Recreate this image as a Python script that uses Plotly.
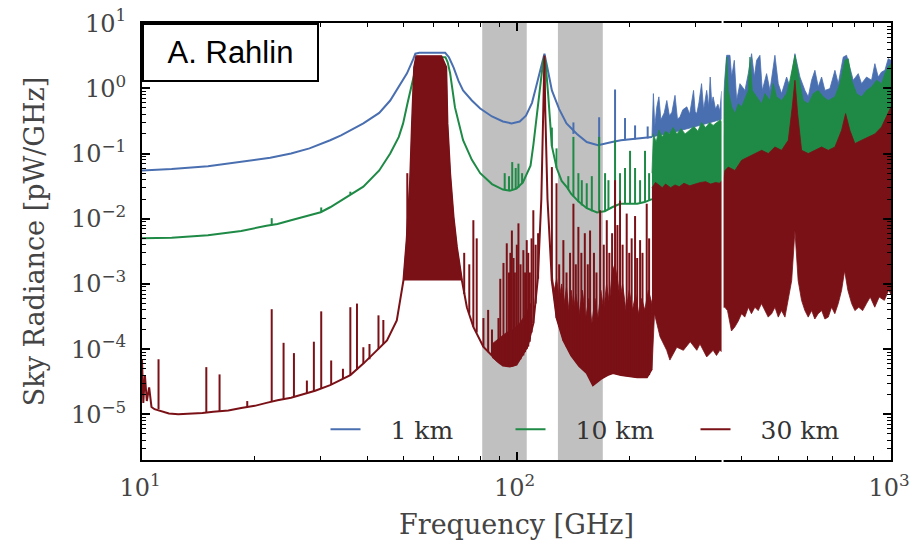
import plotly.graph_objects as go

BLUE = '#4a6fb0'
GREEN = '#1e8a46'
RED = '#7a1117'
GRAY = '#c0c0c0'
SERIF = 'DejaVu Serif'

# ---------------- data (GHz, pW/GHz) ----------------
shade_lo = [81, 129]
shade_hi = [106.5, 170]
gap_freq = 355

series_names = ['1 km', '10 km', '30 km']

x_tickvals = [10, 100, 1000]
x_ticktext = ['10<sup>1</sup>', '10<sup>2</sup>', '10<sup>3</sup>']
y_tickvals = [1e-5, 1e-4, 1e-3, 1e-2, 1e-1, 1, 10]
y_ticktext = ['10<sup>\u22125</sup>', '10<sup>\u22124</sup>', '10<sup>\u22123</sup>', '10<sup>\u22122</sup>',
              '10<sup>\u22121</sup>', '10<sup>0</sup>', '10<sup>1</sup>']

# 1 km
b_cont_f = [10, 12, 15, 18.4, 22, 25, 28, 31.8, 34, 39, 43, 46, 49, 51, 53, 53.7, 55, 60, 64.5, 66,
            67.9, 70, 72, 76, 80, 86, 92, 97, 102, 106, 110, 113, 116, 118.75, 121.5, 124.3, 130, 136, 145, 154,
            165, 172, 180, 190, 200, 215, 230]
b_cont_v = [0.055, 0.058, 0.064, 0.074, 0.086, 0.1, 0.12, 0.16, 0.19, 0.29, 0.42, 0.65, 1.15, 1.7, 2.8, 3.4, 3.5, 3.5, 3.5, 3.0,
            2.1, 1.3, 0.93, 0.65, 0.49, 0.37, 0.31, 0.29, 0.31, 0.38, 0.6, 1.1, 2.1, 3.4, 1.8, 0.93, 0.48, 0.29, 0.2, 0.15,
            0.134, 0.14, 0.15, 0.16, 0.165, 0.17, 0.18]
b_spk_f = [141.9, 166.2, 183.3, 194.9, 207.3, 224]
b_spk_lo = [0.2, 0.134, 0.152, 0.16, 0.165, 0.17]
b_spk_hi = [0.3, 0.36, 0.96, 0.35, 0.27, 0.26]
b_f1_hi_f = [230, 232, 234, 237, 240, 243, 248, 252, 256, 260, 265, 269, 273, 278, 285, 290, 297, 300, 303, 307,
             312, 316, 322, 326, 329, 332, 335, 340, 345, 349, 353, 355]
b_f1_hi_v = [0.18, 0.83, 0.26, 0.52, 0.74, 0.33, 0.42, 0.65, 0.38, 0.43, 0.78, 0.34, 0.36, 0.47, 0.52, 0.4, 0.93, 0.44, 0.41, 0.6,
             1.18, 0.47, 0.93, 0.52, 1.49, 0.6, 0.74, 0.48, 0.57, 0.45, 0.9, 0.45]
b_f1_lo_f = [230, 270, 300, 330, 355]
b_f1_lo_v = [0.18, 0.22, 0.26, 0.3, 0.34]
b_f2_hi_f = [355, 364, 371.5, 375.4, 381.6, 387.1, 395, 407.4, 415.8, 424.4, 431.5, 437.7, 446.7, 453.2, 465.4, 475.1,
             489.8, 500, 510.3, 526.3, 537.2, 554, 571.2, 589.1, 601.3, 613.7, 626.4, 639.4, 652.6, 666.1, 686.8,
             708.4, 723, 745.6, 761, 776.7, 792.8, 817.5, 834.4, 860.4, 887.3, 905.6, 924.4, 943.5, 963.1, 983, 1000]
b_f2_hi_v = [0.52, 3.21, 3.21, 1.49, 2.69, 0.65, 1.18, 0.93, 1.68, 3.4, 1.49, 2.69, 3.21, 0.93, 1.68, 0.93,
             3.21, 1.18, 0.83, 1.49, 1.05, 3.4, 1.49, 0.93, 0.74, 1.33, 1.89, 1.05, 1.49, 0.93, 0.99,
             1.89, 1.18, 3.02, 3.21, 2.12, 1.33, 1.68, 1.18, 1.49, 1.33, 2.39, 1.49, 1.78, 1.89, 2.85, 2.69]
b_f2_lo_f = [355, 600, 1000]
b_f2_lo_v = [0.3, 0.4, 0.5]

# 10 km
g_cont_f = [10, 12, 15, 18.4, 21.5, 23, 25, 28, 30, 31.8, 34, 39, 43, 46, 48.5, 49.8, 51.2, 52.7, 54.4, 55,
            60, 64.6, 65.5, 66.5, 68.5, 72, 76, 80, 86, 92, 96, 100, 104, 107, 109, 111, 113.5, 116, 117.8, 118.75,
            119.6, 121.5, 124.3, 128, 132, 136.6, 140, 147, 154, 164, 172, 180, 189, 200, 210, 220, 230]
g_cont_v = [0.005, 0.0051, 0.0056, 0.0065, 0.0078, 0.0083, 0.0095, 0.0112, 0.0126, 0.015, 0.019, 0.031, 0.055, 0.1, 0.18,
            0.29, 0.6, 1.2, 2.7, 3.0, 3.0, 3.0, 2.5, 1.7, 0.51, 0.16, 0.08, 0.05, 0.034, 0.028, 0.027, 0.029, 0.036,
            0.05, 0.065, 0.14, 0.4, 1.2, 2.6, 3.0, 2.4, 0.8, 0.13, 0.06, 0.038, 0.03, 0.024, 0.018, 0.0145, 0.0125,
            0.013, 0.015, 0.017, 0.017, 0.017, 0.018, 0.02]
g_spk_f = [22.2, 30.1, 36.0, 93.0, 95.5, 97.4, 99.5, 101.2, 103.5, 124.3, 127.9, 137.5, 141.9, 146.3, 149.4, 154.0,
           158.9, 166.2, 172.4, 176.0, 183.3, 189.0, 194.9, 201.0, 207.3, 213.8, 220.4, 226.0]
g_spk_lo = [0.0079, 0.0126, 0.024, 0.028, 0.027, 0.028, 0.029, 0.03, 0.034, 0.13, 0.06, 0.028, 0.022, 0.018, 0.016,
            0.0145, 0.013, 0.0125, 0.013, 0.014, 0.015, 0.017, 0.017, 0.017, 0.017, 0.017, 0.018, 0.019]
g_spk_hi = [0.0102, 0.0149, 0.026, 0.05, 0.045, 0.074, 0.06, 0.07, 0.05, 0.25, 0.12, 0.045, 0.18, 0.05, 0.039, 0.035,
            0.045, 0.18, 0.05, 0.039, 0.16, 0.05, 0.06, 0.11, 0.06, 0.039, 0.11, 0.05]
g_f1_hi_f = [230, 232, 236, 240, 245, 250, 256, 262, 268, 275, 282, 290, 298, 305, 312, 320, 328, 335, 342, 350, 355]
g_f1_hi_v = [0.05, 0.2, 0.15, 0.23, 0.18, 0.22, 0.2, 0.25, 0.2, 0.24, 0.2, 0.23, 0.26, 0.22, 0.3, 0.25, 0.3, 0.27,
             0.3, 0.33, 0.3]
g_f1_lo_f = [230, 355]
g_f1_lo_v = [0.02, 0.03]
g_f2_hi_f = [355, 360.3, 364, 367.7, 375.4, 383.1, 391, 399.2, 407.4, 415.8, 420.1, 426.2, 437.7, 451.4, 460.7,
             475.1, 484.9, 494.9, 510.3, 526.3, 537.2, 554, 571.2, 583, 601.3, 620, 639.4, 659.2, 679.8, 708.4,
             730.5, 753.3, 768.9, 784.8, 809.1, 834.4, 860.4, 887.3, 915, 943.5, 963.1, 983, 1000]
g_f2_hi_v = [0.126, 0.93, 3.02, 0.93, 0.52, 0.41, 0.58, 0.52, 0.69, 0.93, 3.02, 0.93, 0.74, 0.58, 0.83,
             0.65, 1.18, 0.74, 0.65, 0.83, 1.33, 3.21, 1.18, 0.65, 0.58, 0.83, 0.93, 0.74, 0.65, 0.74,
             1.18, 2.69, 2.85, 1.33, 0.83, 0.74, 0.93, 1.05, 1.33, 1.18, 1.68, 2.12, 2.39]
g_f2_lo_f = [355, 1000]
g_f2_lo_v = [0.02, 0.05]

# 30 km
r_cont_f = [10.0, 10.08, 10.18, 10.3, 10.45, 10.6, 10.8, 11.3, 11.8, 12.5, 13.5, 14.5, 15.5, 17, 18.4, 20, 21.5, 23,
            25, 27, 29, 31.8, 34, 36, 39, 42, 45.1, 47.9, 49.9, 50.9, 52.0, 52.6, 53.3, 54.0, 57, 60, 63, 64.9,
            65.4, 66.5, 67.9, 69.3, 71.5, 73.7, 76.7, 81.6, 88.6, 92, 96, 100, 103, 107, 110.9, 114, 116.5, 118.2,
            118.75, 119.3, 121, 124.3, 128, 133.4, 140, 147, 154, 160, 168, 175, 181, 190, 200, 210, 223, 230]
r_cont_v = [6.8e-5, 1.5e-5, 4e-5, 1.6e-5, 2.6e-5, 1.3e-5, 1.2e-5, 1.1e-5, 1.03e-5, 1.0e-5, 1.02e-5, 1.05e-5, 1.1e-5,
            1.15e-5, 1.25e-5, 1.35e-5, 1.5e-5, 1.65e-5, 1.8e-5, 2.05e-5, 2.3e-5, 2.8e-5, 3.4e-5, 4.0e-5, 6.0e-5,
            9e-5, 1.36e-4, 2.75e-4, 1.13e-3, 4.7e-3, 0.039, 0.29, 2.1, 3.1, 3.1, 3.1, 3.1, 2.1, 0.29, 0.049,
            0.0106, 3.7e-3, 1.13e-3, 4.4e-4, 2.2e-4, 1.08e-4, 6.7e-5, 5.6e-5, 5.4e-5, 5.8e-5, 7.6e-5, 1.1e-4,
            2.5e-4, 1.2e-3, 0.02, 0.5, 3.2, 0.5, 0.02, 1.1e-3, 3e-4, 1.36e-4, 8e-5, 5.5e-5, 4.3e-5, 2.8e-5,
            3.5e-5, 4e-5, 4.3e-5, 4e-5, 3.8e-5, 3.7e-5, 3.7e-5, 5e-5]
r_o2_f = [49.9, 50.9, 52.0, 52.6, 53.3, 54.0, 57, 60, 63, 64.9, 65.4, 66.5, 67.9, 69.3, 71.5]
r_o2_v = [1.13e-3, 4.7e-3, 0.039, 0.29, 2.1, 3.1, 3.1, 3.1, 3.1, 2.1, 0.29, 0.049, 0.0106, 3.7e-3, 1.13e-3]
r_spk_f = [11.07, 14.85, 16.11, 19.1, 22.2, 23.88, 25.45, 27.56, 28.77, 30.1, 32.0, 34.4, 36.0, 37.5, 39.0, 40.5,
           42.8, 44.1, 51.1, 72.5, 74.8, 76.7, 78.3, 81.6, 84.0, 86.0, 89.5, 90.5, 92.3, 94.2, 95.5, 96.3, 97.2,
           98.2, 99.0, 100.2, 101.2, 102.5, 104.3, 105.4, 106.5, 107.5, 108.5, 109.7, 110.9, 112.5, 114.2,
           124.3, 127.9, 130, 133.4, 136, 139, 141.9, 144, 146.3, 149, 152.2, 155, 157.2, 161, 163.5, 167.2, 171,
           174.2, 177, 180, 183.3, 186, 189, 192, 196.9, 200, 203, 207.3, 210, 213.8, 217, 222.7, 226]
r_spk_lo = [1.2e-5, 1.07e-5, 1.12e-5, 1.3e-5, 1.55e-5, 1.7e-5, 1.85e-5, 2.1e-5, 2.25e-5, 2.5e-5, 2.85e-5, 3.5e-5,
            4.0e-5, 4.8e-5, 6e-5, 7e-5, 1e-4, 1.2e-4, 5e-3, 7e-4, 3.5e-4, 2.2e-4, 1.8e-4, 1.08e-4, 9e-5, 8e-5,
            6.5e-5, 6e-5, 5.6e-5, 5.5e-5, 5.4e-5, 5.4e-5, 5.4e-5, 5.5e-5, 5.6e-5, 6e-5, 6.5e-5, 7e-5, 8e-5, 9e-5,
            1e-4, 1.1e-4, 1.3e-4, 1.8e-4, 2.5e-4, 5e-4, 1.2e-3,
            1.1e-3, 3e-4, 2.2e-4, 1.36e-4, 1.1e-4, 9e-5, 8e-5, 7e-5, 6e-5, 5.5e-5, 4.8e-5, 4.2e-5, 3.5e-5, 2.9e-5,
            3.1e-5, 3.4e-5, 3.8e-5, 4e-5, 4.1e-5, 4.3e-5, 4.3e-5, 4.2e-5, 4.1e-5, 4e-5, 3.9e-5, 3.8e-5, 3.8e-5,
            3.7e-5, 3.7e-5, 3.7e-5, 3.7e-5, 3.7e-5, 4e-5]
r_spk_hi = [7e-5, 5.3e-5, 4.1e-5, 1.6e-5, 4.1e-4, 1.25e-4, 8.7e-5, 3.3e-5, 1.3e-4, 3.8e-4, 6.7e-5, 5e-5, 4.4e-4,
            5e-4, 1.07e-4, 1.2e-4, 3.3e-4, 2.8e-4, 0.05, 3e-3, 2e-3, 9.5e-3, 5e-3, 3e-4, 4e-4, 2e-4, 3e-4, 1.2e-3,
            2.1e-3, 4.2e-3, 1.5e-3, 3e-3, 6.6e-3, 2.5e-3, 1.5e-3, 4e-3, 8.5e-3, 2e-3, 3.3e-3, 1.5e-3, 4.7e-3,
            3e-3, 1.5e-3, 5e-3, 0.0135, 4e-3, 6e-3,
            0.062, 0.035, 2e-3, 4.7e-3, 1.5e-3, 3e-3, 0.017, 2e-3, 7.5e-3, 3e-3, 6e-3, 2e-3, 6.6e-3, 3e-3, 1.5e-3,
            0.0135, 4e-3, 9.5e-3, 3e-3, 6e-3, 0.039, 8e-3, 0.019, 4e-3, 0.012, 3e-3, 5e-3, 0.011, 2.5e-3, 4.7e-3,
            3e-3, 0.017, 5e-3]
r_low_f = [86.0, 90.0, 94.0, 98.0, 102.0, 106.0, 109.0]
r_low_lo = [7.5e-5, 6e-5, 5.5e-5, 5.5e-5, 6.8e-5, 1e-4, 1.5e-4]
r_low_hi = [1.2e-4, 1.5e-4, 1.8e-4, 2e-4, 2.5e-4, 3.5e-4, 5e-4]
r_mid_hi_f = [124.3, 126, 128, 130, 132, 134, 136, 138, 140, 142, 144, 147, 150, 153, 156, 159, 162, 165, 168, 171,
              174, 177, 180, 183, 186, 189, 192, 196, 200, 204, 208, 212, 216, 220, 225, 230]
r_mid_hi_v = [1.5e-3, 8e-4, 1.2e-3, 6e-4, 1e-3, 5e-4, 9e-4, 4e-4, 8e-4, 4e-4, 7e-4, 3.5e-4, 8e-4, 3e-4, 6e-4, 2.5e-4,
              6e-4, 3e-4, 8e-4, 4e-4, 1e-3, 5e-4, 1.5e-3, 2e-3, 1.2e-3, 6e-4, 1e-3, 4e-4, 8e-4, 4e-4, 7e-4, 3.5e-4,
              6e-4, 4e-4, 8e-4, 5e-4]
r_mid_lo_f = [124.3, 128, 133.4, 140, 147, 154, 160, 168, 175, 181, 190, 200, 210, 223, 230]
r_mid_lo_v = [1.1e-3, 3e-4, 1.36e-4, 8e-5, 5.5e-5, 4.3e-5, 2.8e-5, 3.5e-5, 4e-5, 4.3e-5, 4e-5, 3.8e-5, 3.7e-5,
              3.7e-5, 5e-5]
r_f1_hi_f = [230, 235, 240, 245, 250, 258, 265, 272, 280, 290, 300, 310, 320, 330, 340, 348, 355]
r_f1_hi_v = [0.03, 0.036, 0.033, 0.03, 0.034, 0.03, 0.033, 0.031, 0.035, 0.032, 0.034, 0.036, 0.037, 0.034, 0.036,
             0.035, 0.039]
r_f1_lo_f = [230, 233.6, 241.7, 251.8, 256.8, 268, 279, 291, 303, 309, 322, 335, 342, 349, 355]
r_f1_lo_v = [5e-5, 3.5e-4, 1.55e-4, 9.6e-5, 6.8e-5, 1.07e-4, 9.6e-5, 1.3e-4, 9.6e-5, 1.2e-4, 7.6e-5, 9.6e-5, 8e-5,
             9.6e-5, 9e-5]
r_f2_hi_f = [355, 360.3, 367.7, 383.1, 399.2, 415.8, 433.3, 451.4, 470.2, 489.8, 510.3, 531.8, 545, 554, 563.2,
             577.1, 601.3, 626.4, 652.6, 679.8, 708.4, 738, 756.4, 776.7, 800.8, 834.4, 869.5, 905.6, 943.5, 983, 1000]
r_f2_hi_v = [0.0345, 0.055, 0.062, 0.055, 0.079, 0.089, 0.1, 0.112, 0.1, 0.126, 0.112, 0.16, 0.52, 1.33, 0.41,
             0.112, 0.1, 0.112, 0.126, 0.112, 0.126, 0.227, 0.41, 0.227, 0.142, 0.16, 0.18, 0.2, 0.255, 0.41, 0.52]
r_f2_lo_f = [355, 360, 366, 375, 383, 391, 399, 407, 416, 424, 433, 442, 451, 461, 470, 480, 490, 500, 510, 521,
             532, 543, 554, 565, 577, 589, 601, 614, 626, 639, 653, 666, 680, 694, 708, 723, 738, 752, 767, 785,
             801, 820, 840, 860, 880, 905, 930, 960, 985, 1000]
r_f2_lo_v = [4.4e-4, 4.4e-4, 3.9e-4, 1.9e-4, 2.2e-4, 2.7e-4, 3.5e-4, 3.1e-4, 4.4e-4, 3.5e-4, 4.4e-4, 3.9e-4, 5e-4,
             3.9e-4, 3.1e-4, 3.5e-4, 4.4e-4, 3.1e-4, 3.9e-4, 3.1e-4, 5.6e-4, 1.13e-3, 6.6e-3, 1.13e-3, 5.6e-4,
             3.9e-4, 3.1e-4, 3.9e-4, 2.9e-4, 3.5e-4, 3.9e-4, 2.9e-4, 3.1e-4, 4.4e-4, 3.5e-4, 5e-4, 8e-4, 1.6e-3,
             8e-4, 5e-4, 3.9e-4, 4.4e-4, 3.9e-4, 5e-4, 6.3e-4, 4.4e-4, 6.3e-4, 5.6e-4, 8e-4, 7e-4]


# ---------------- helpers ----------------
def polygon(hi_f, hi_v, lo_f, lo_v):
    return list(hi_f) + list(lo_f)[::-1], list(hi_v) + list(lo_v)[::-1]


def spikes(f, lo, hi):
    xs, ys = [], []
    for a, b, c in zip(f, lo, hi):
        xs += [a, a, None]
        ys += [b, c, None]
    return xs, ys


fig = go.Figure()

# grey shaded windows
for a, b in zip(shade_lo, shade_hi):
    fig.add_trace(go.Scatter(x=[a, b, b, a, a], y=[1e-7, 1e-7, 1e3, 1e3, 1e-7], fill='toself',
                             fillcolor=GRAY, line=dict(width=0), mode='lines',
                             showlegend=False, hoverinfo='skip'))

series = [
    (series_names[0], BLUE, b_cont_f, b_cont_v, (b_spk_f, b_spk_lo, b_spk_hi),
     [(b_f1_hi_f, b_f1_hi_v, b_f1_lo_f, b_f1_lo_v), (b_f2_hi_f, b_f2_hi_v, b_f2_lo_f, b_f2_lo_v)]),
    (series_names[1], GREEN, g_cont_f, g_cont_v, (g_spk_f, g_spk_lo, g_spk_hi),
     [(g_f1_hi_f, g_f1_hi_v, g_f1_lo_f, g_f1_lo_v), (g_f2_hi_f, g_f2_hi_v, g_f2_lo_f, g_f2_lo_v)]),
    (series_names[2], RED, r_cont_f, r_cont_v, (r_spk_f, r_spk_lo, r_spk_hi),
     [(r_low_f, r_low_hi, r_low_f, r_low_lo), (r_mid_hi_f, r_mid_hi_v, r_mid_lo_f, r_mid_lo_v),
      (r_f1_hi_f, r_f1_hi_v, r_f1_lo_f, r_f1_lo_v), (r_f2_hi_f, r_f2_hi_v, r_f2_lo_f, r_f2_lo_v)]),
]

for name, col, cf, cv, spk, bands in series:
    if col == RED:
        fig.add_trace(go.Scatter(x=r_o2_f, y=r_o2_v, fill='toself', fillcolor=col, mode='lines',
                                 line=dict(color=col, width=1), showlegend=False, hoverinfo='skip'))
    for hf, hv, lf, lv in bands:
        px, py = polygon(hf, hv, lf, lv)
        fig.add_trace(go.Scatter(x=px, y=py, fill='toself', fillcolor=col, mode='lines',
                                 line=dict(color=col, width=0.8), showlegend=False, hoverinfo='skip'))
    sx, sy = spikes(*spk)
    fig.add_trace(go.Scatter(x=sx, y=sy, mode='lines', line=dict(color=col, width=2),
                             showlegend=False, hoverinfo='skip'))
    fig.add_trace(go.Scatter(x=cf, y=cv, mode='lines', name='\u2003' + name,
                             line=dict(color=col, width=2), hoverinfo='skip'))

# white cut at the stitching frequency
fig.add_shape(type='line', xref='x', yref='paper', x0=gap_freq, x1=gap_freq, y0=-0.02, y1=1.02,
              line=dict(color='white', width=2), layer='above')

axis_common = dict(
    type='log', showline=True, linecolor='black', linewidth=2, mirror='ticks',
    ticks='inside', ticklen=8, tickwidth=1.5, tickcolor='black', tickmode='array',
    showgrid=False, zeroline=False, automargin=False, ticklabeloverflow='allow',
    tickfont=dict(family=SERIF, size=24, color='#444'),
    minor=dict(ticks='inside', ticklen=4, tickwidth=1, tickcolor='black', dtick='D1', showgrid=False),
)

# plot area at 142..891 x 23..460 of the 916x541 page (body margin removed below)
fig.update_layout(
    width=916, height=541,
    margin=dict(l=142, r=25, t=23, b=81),
    plot_bgcolor='white', paper_bgcolor='white',
    xaxis=dict(axis_common, range=[1, 3], tickvals=x_tickvals, ticktext=x_ticktext, ticklabelstandoff=5,
               ticklabelshift=-2,
               title=dict(text='Frequency [GHz]', font=dict(family=SERIF, size=27, color='#444'), standoff=14)),
    yaxis=dict(axis_common, range=[-5.7, 1.002], tickvals=y_tickvals, ticktext=y_ticktext, ticklabelstandoff=9,
               title=dict(text='Sky Radiance [pW/GHz]', font=dict(family=SERIF, size=27, color='#444'),
                          standoff=18)),
    legend=dict(orientation='h', x=0.245, y=0.07, xanchor='left', yanchor='middle',
                bgcolor='rgba(0,0,0,0)', font=dict(family=SERIF, size=25, color='#333'),
                entrywidth=140, entrywidthmode='pixels', tracegroupgap=0),
    annotations=[dict(text='A. Rahlin', xref='paper', yref='paper', x=0, y=1, xanchor='left', yanchor='top',
                      showarrow=False, width=173, height=55, borderpad=0, borderwidth=2,
                      bordercolor='black', bgcolor='white',
                      font=dict(family='Liberation Sans', size=31, color='black'))],
)

fig.write_html('out.html', config={'displayModeBar': False},
               post_script="document.body.style.margin='0';")
